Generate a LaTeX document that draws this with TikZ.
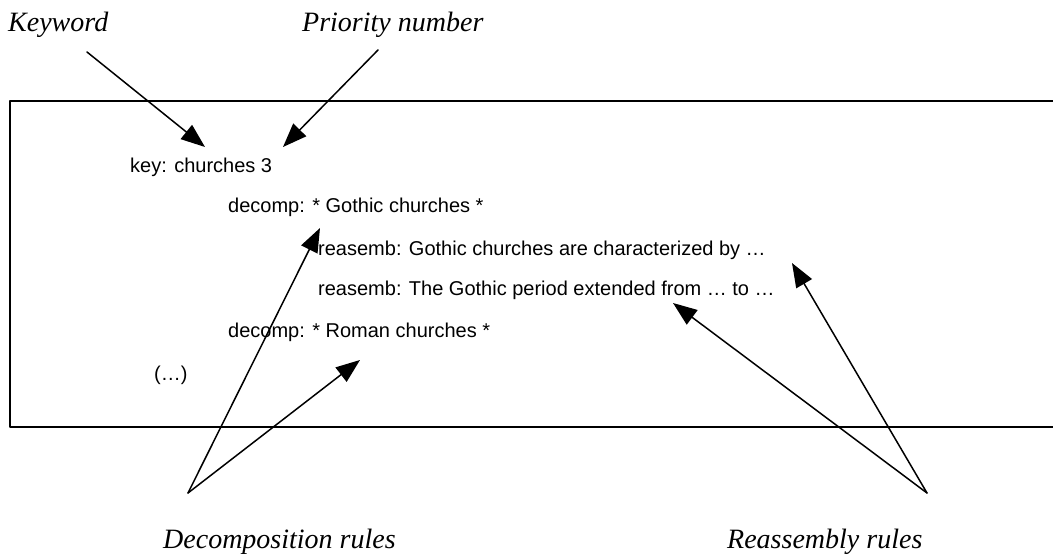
\documentclass[tikz,border=0pt]{standalone}
\usepackage{fontspec}
\setmainfont{Liberation Serif}
\setsansfont{Liberation Sans}
\usetikzlibrary{arrows.meta}
\begin{document}
\begin{tikzpicture}[x=1pt, y=-1pt, line join=round, line cap=round,
    >={Triangle[length=24pt,width=18pt]},
    rule/.style={font=\fontsize{20}{24}\sffamily, anchor=base west, inner sep=0pt},
    tag/.style={font=\fontsize{28}{32}\selectfont\itshape, anchor=base west, inner sep=0pt},
    pointer/.style={->, line width=1.5pt}]
    \useasboundingbox (0,0) rectangle (1053,559);
    % the frame, open on the right
    \draw[line width=2pt] (1060,101) -- (10,101) -- (10,427) -- (1060,427);
    % labels
    \node[tag] (keyword) at (8,32) {Keyword};
    \node[tag] (priority) at (302,32) {Priority number};
    \node[tag] (decomp) at (163,548) {Decomposition rules};
    \node[tag] (reasm) at (727,548) {Reassembly rules};
    % script lines
    \node[rule] (key) at (130,173) {key: churches 3};
    \node[rule] (gothic) at (228,213) {decomp: * Gothic churches *};
    \node[rule] (reasA) at (318,255) {reasemb: Gothic churches are characterized by \dots};
    \node[rule] (reasB) at (318,295) {reasemb: The Gothic period extended from \dots\ to \dots};
    \node[rule] (roman) at (228,337) {decomp: * Roman churches *};
    \node[rule] (more) at (154,380) {(\dots)};
    % arrow ends
    \coordinate (kwfoot) at (87,52);
    \coordinate (keytip) at (205,147);
    \coordinate (prfoot) at (378,50);
    \coordinate (numtip) at (283,147);
    \coordinate (dapex) at (188,493);
    \coordinate (gothtip) at (320,228);
    \coordinate (romtip) at (360,360);
    \coordinate (rapex) at (927,493);
    \coordinate (fromtip) at (673,303);
    \coordinate (bytip) at (792,263);
    \draw[pointer] (kwfoot) -- (keytip);
    \draw[pointer] (prfoot) -- (numtip);
    \draw[pointer] (dapex) -- (gothtip);
    \draw[pointer] (dapex) -- (romtip);
    \draw[pointer] (rapex) -- (fromtip);
    \draw[pointer] (rapex) -- (bytip);
\end{tikzpicture}
\end{document}
